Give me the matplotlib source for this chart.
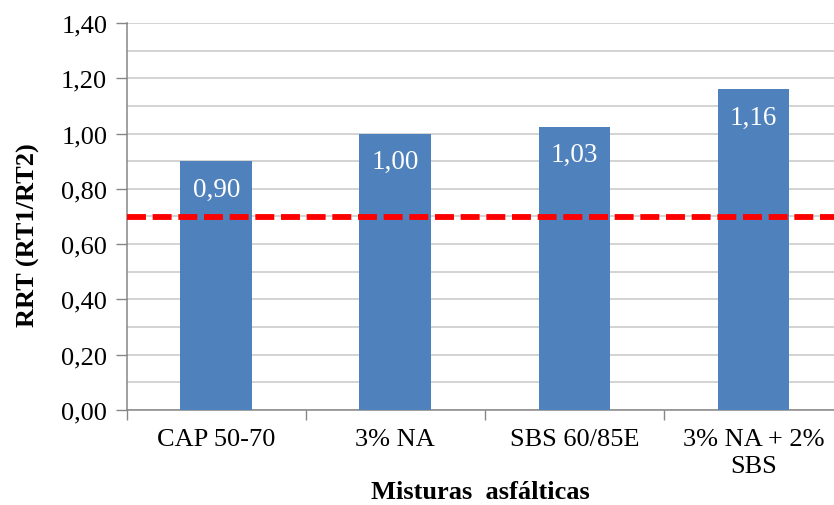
import matplotlib
matplotlib.use("Agg")
import matplotlib.pyplot as plt
from matplotlib.ticker import MultipleLocator, FixedLocator, NullFormatter

categories = ["CAP 50-70", "3% NA", "SBS 60/85E", "3% NA + 2%\nSBS"]
values = [0.90, 1.00, 1.025, 1.16]
value_labels = ["0,90", "1,00", "1,03", "1,16"]
limit_value = 0.70
y_ticks = [0.0, 0.2, 0.4, 0.6, 0.8, 1.0, 1.2, 1.4]

plt.rcParams['font.family'] = ['Liberation Serif', 'DejaVu Serif']

fig = plt.figure(figsize=(8.34, 5.06), dpi=100)
ax = fig.add_axes([126.7/834, (506-411)/506, (843-126.7)/834, 387/506])

x = list(range(len(categories)))
bars = ax.bar(x, values, width=0.40, color="#4F81BD", zorder=3)

for xi, v, lab in zip(x, values, value_labels):
    ax.annotate(lab, (xi, v), xytext=(0, -28), textcoords="offset pixels",
                ha="center", va="center", color="white", fontsize=19.5, zorder=4)

ax.axhline(limit_value, xmin=0.0, xmax=1, color="#FF0000", lw=4.2,
           dashes=(3.25, 1.15), zorder=5)

ax.set_xlim(-0.5, 3.5)
ax.set_ylim(0, 1.4)

ax.yaxis.set_major_locator(FixedLocator(y_ticks))
ax.set_yticklabels([f"{t:.2f}".replace(".", ",") for t in y_ticks], fontsize=19)
ax.yaxis.set_minor_locator(MultipleLocator(0.1))
ax.grid(axis="y", which="both", color="#C8C8C8", lw=1.1, zorder=0)
ax.tick_params(axis="y", which="major", length=8, color="#868686", width=1, pad=6)
ax.tick_params(axis="y", which="minor", length=0)

ax.xaxis.set_major_locator(FixedLocator([-0.5, 0.5, 1.5, 2.5, 3.5]))
ax.xaxis.set_major_formatter(NullFormatter())
ax.xaxis.set_minor_locator(FixedLocator(x))
ax.set_xticklabels(categories, minor=True, fontsize=19, linespacing=1.3)
ax.tick_params(axis="x", which="minor", length=0, pad=13)
ax.tick_params(axis="x", which="major", length=7, color="#868686", width=1)
for lbl in ax.xaxis.get_minorticklabels():
    lbl.set_verticalalignment("top")

for s in ["top", "right"]:
    ax.spines[s].set_visible(False)
for s in ["left", "bottom"]:
    ax.spines[s].set_color("#868686")
    ax.spines[s].set_linewidth(1.1)

fig.text(28/834, 1 - 235/506, "RRT (RT1/RT2)", rotation=90, ha="center", va="center",
         fontsize=19, fontweight="bold")
fig.text(480/834, 1 - 493/506, "Misturas  asfálticas", ha="center", va="center",
         fontsize=19, fontweight="bold")

fig.savefig("out.png", dpi=100)
